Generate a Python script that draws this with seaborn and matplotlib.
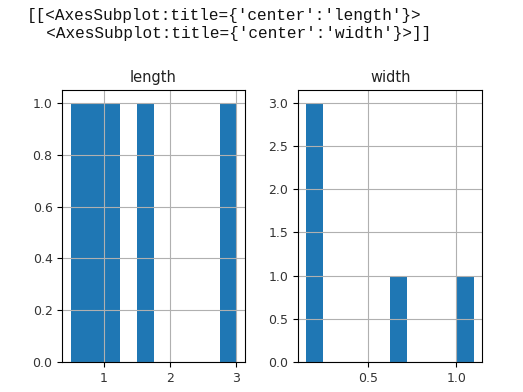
import pandas as pd
import matplotlib.pyplot as plt
import seaborn as sns

# values behind the two histograms (10 bins each)
length = [1.5, 0.5, 1.2, 0.9, 3]
width = [0.7, 0.2, 0.15, 0.2, 1.1]

df = pd.DataFrame({'length': length, 'width': width})

header = ("[[<AxesSubplot:title={'center':'length'}>\n"
          "  <AxesSubplot:title={'center':'width'}>]]")

fig = plt.figure(figsize=(5.23, 3.92), dpi=100)
ax1 = fig.add_axes([0.119, 0.0765, 0.349, 0.694])
ax2 = fig.add_axes([0.570, 0.0765, 0.352, 0.694])

for ax, col in zip([ax1, ax2], ['length', 'width']):
    sns.histplot(data=df, x=col, bins=10, ax=ax, color='#1f77b4',
                 alpha=1, linewidth=0, stat='count')
    ax.set_title(col, fontsize=10.5, color='#222222')
    ax.set_xlabel('')
    ax.set_ylabel('')
    ax.grid(True)
    ax.tick_params(labelsize=9, labelcolor='#333333')

ax1.set_xticks([1, 2, 3])
ax2.set_xticks([0.5, 1.0])

fig.text(0.052, 0.98, header, family='Liberation Mono', fontsize=11.6,
         va='top', ha='left', linespacing=1.25, color='#111111')

fig.savefig('out.png', dpi=100)
